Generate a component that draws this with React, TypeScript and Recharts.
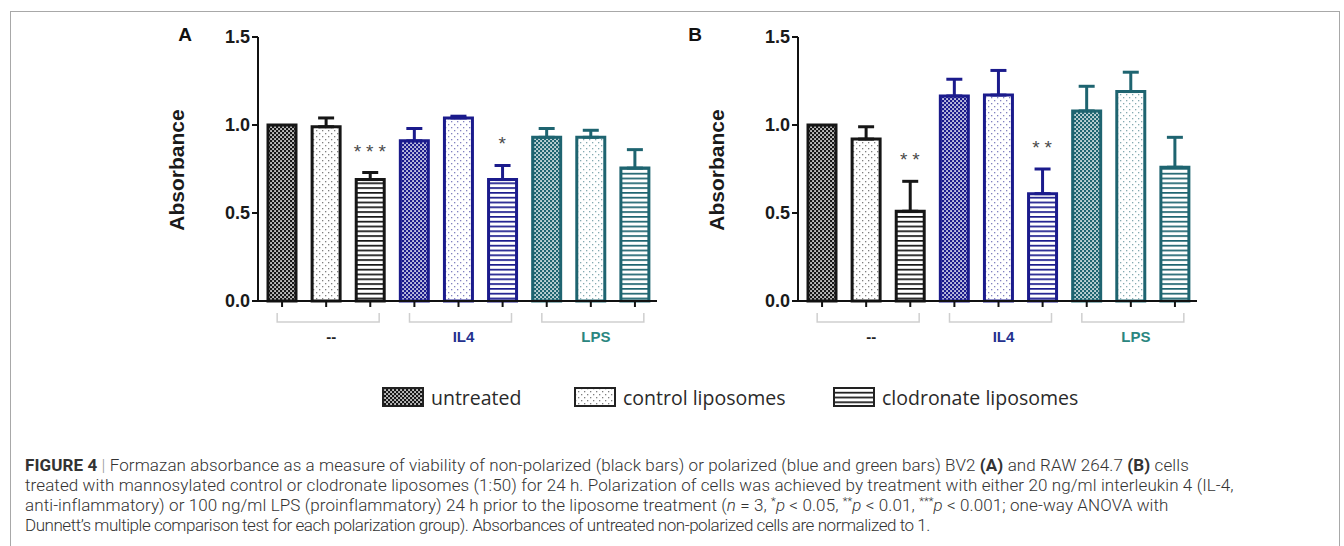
import React from 'react'
import { BarChart, Bar, XAxis, YAxis, ErrorBar, Cell, ReferenceDot } from 'recharts'

const groups = ['--', 'IL4', 'LPS']
const treatments = ['untreated', 'control liposomes', 'clodronate liposomes']

// panel A, BV2 (one value per group: --, IL4, LPS)
const untreatedA = [1.0, 0.91, 0.93]
const untreatedErrA = [0, 0.07, 0.05]
const controlA = [0.99, 1.04, 0.93]
const controlErrA = [0.05, 0.01, 0.04]
const clodronateA = [0.69, 0.69, 0.755]
const clodronateErrA = [0.04, 0.08, 0.105]
const starsA = ['***', '*', '']

// panel B, RAW 264.7
const untreatedB = [1.0, 1.165, 1.08]
const untreatedErrB = [0, 0.095, 0.14]
const controlB = [0.92, 1.17, 1.19]
const controlErrB = [0.07, 0.14, 0.11]
const clodronateB = [0.51, 0.61, 0.76]
const clodronateErrB = [0.17, 0.14, 0.17]
const starsB = ['**', '**', '']

const yTicks = [0, 0.5, 1, 1.5]

// one x axis per colour group so each bar gets the full band
const SERIES = ['x1', 'x2', 'x3']
const GROUP_AXIS = 'x4'
const COLORS = ['#161616', '#1b1b8c', '#1e6470']
const LABEL_COLORS = ['#222', '#24318f', '#2b8680']
const PATTERNS = ['check', 'dots', 'lines']
const AXIS_FONT = '"Liberation Sans", Arial, sans-serif'

const buildRows = (vals: number[][], errs: number[][]) => {
  const rows: any[] = []
  groups.forEach((g, gi) => {
    treatments.forEach((t, ti) => {
      const k = SERIES[gi]
      const row: any = { cat: `${g}|${t}`, group: g, treat: ti }
      row['v_' + k] = vals[ti][gi]
      row['e_' + k] = errs[ti][gi] > 0 ? [0, errs[ti][gi]] : null
      rows.push(row)
    })
  })
  return rows
}

const dataA = buildRows([untreatedA, controlA, clodronateA], [untreatedErrA, controlErrA, clodronateErrA])
const dataB = buildRows([untreatedB, controlB, clodronateB], [untreatedErrB, controlErrB, clodronateErrB])

const NoTick = () => null

const GroupTick = (props: any) => {
  const { x, y, payload } = props
  const gi = groups.indexOf(payload.value)
  const half = 51
  const by = y + 11
  return (
    <g>
      <path
        d={`M${x - half + 2},${by - 9} V${by} H${x + half + 2} V${by - 9}`}
        fill="none"
        stroke="#cfcfcf"
        strokeWidth={1.5}
      />
      <text
        x={x + 5}
        y={y + 31}
        textAnchor="middle"
        fill={LABEL_COLORS[gi]}
        fontSize={15}
        fontWeight={700}
        fontFamily={AXIS_FONT}
      >
        {payload.value}
      </text>
    </g>
  )
}

const Panel = ({ data, stars, vals, errs }: any) => (
  <BarChart
    width={540}
    height={360}
    data={data}
    margin={{ top: 37, right: 3, bottom: 9, left: 0 }}
  >
    <YAxis
      domain={[0, 1.5]}
      ticks={yTicks}
      interval={0}
      width={138}
      tickFormatter={(v: number) => v.toFixed(1)}
      axisLine={{ stroke: '#111', strokeWidth: 2 }}
      tickLine={{ stroke: '#111', strokeWidth: 2 }}
      tickSize={6}
      tickMargin={2}
      tick={{ fill: '#1a1a1a', fontSize: 18, fontWeight: 700, fontFamily: AXIS_FONT }}
    />
    <XAxis
      xAxisId="x1"
      dataKey="cat"
      interval={0}
      height={10}
      padding={{ left: 2, right: 0 }}
      axisLine={{ stroke: '#111', strokeWidth: 2 }}
      tickLine={{ stroke: '#111', strokeWidth: 2 }}
      tickSize={6}
      tick={NoTick}
    />
    <XAxis xAxisId="x2" dataKey="cat" hide height={0} padding={{ left: 2, right: 0 }} />
    <XAxis xAxisId="x3" dataKey="cat" hide height={0} padding={{ left: 2, right: 0 }} />
    <XAxis
      xAxisId={GROUP_AXIS}
      dataKey="group"
      allowDuplicatedCategory={false}
      interval={0}
      height={40}
      padding={{ left: 2, right: 0 }}
      axisLine={false}
      tickLine={false}
      tickSize={0}
      tickMargin={0}
      tick={<GroupTick />}
    />
    {SERIES.map((k, gi) => (
      <Bar
        key={k}
        xAxisId={k}
        dataKey={'v_' + k}
        barSize={28}
        stroke={COLORS[gi]}
        strokeWidth={3}
        isAnimationActive={false}
      >
        {data.map((row: any, i: number) => (
          <Cell key={i} fill={`url(#${PATTERNS[row.treat]}-${k})`} />
        ))}
        <ErrorBar
          dataKey={'e_' + k}
          direction="y"
          width={8}
          stroke={COLORS[gi]}
          strokeWidth={3}
        />
      </Bar>
    ))}
    {stars.map((s: string, gi: number) =>
      s ? (
        <ReferenceDot
          key={gi}
          xAxisId="x1"
          x={`${groups[gi]}|clodronate liposomes`}
          y={vals[gi] + errs[gi]}
          r={0}
          stroke="none"
          label={{
            value: s,
            position: 'top',
            offset: 15,
            fill: '#4a4a4a',
            fontSize: 19,
            letterSpacing: 5,
            dx: 2,
            fontFamily: AXIS_FONT,
          }}
        />
      ) : null,
    )}
  </BarChart>
)

const Patterns = () => (
  <svg width={0} height={0} style={{ position: 'absolute' }}>
    <defs>
      {SERIES.map((k, gi) => {
        const c = COLORS[gi]
        return (
          <React.Fragment key={k}>
            <pattern id={`check-${k}`} patternUnits="userSpaceOnUse" width={4} height={4}>
              <rect width={4} height={4} fill={c} />
              <rect x={0.2} y={0.2} width={1.7} height={1.7} fill="#fff" opacity={0.9} />
              <rect x={2.2} y={2.2} width={1.7} height={1.7} fill="#fff" opacity={0.9} />
            </pattern>
            <pattern id={`dots-${k}`} patternUnits="userSpaceOnUse" width={6} height={6}>
              <rect width={6} height={6} fill="#fff" />
              <rect x={1} y={1} width={1.3} height={1.3} fill={c} opacity={0.55} />
              <rect x={4} y={4} width={1.3} height={1.3} fill={c} opacity={0.55} />
            </pattern>
            <pattern id={`lines-${k}`} patternUnits="userSpaceOnUse" width={4} height={4.8}>
              <rect width={4} height={4.8} fill="#fff" />
              <rect y={0} width={4} height={1.7} fill={c} />
            </pattern>
          </React.Fragment>
        )
      })}
    </defs>
  </svg>
)

const legendLeft = [382, 574, 833]

const Sup = ({ children }: any) => (
  <span style={{ fontSize: 11, position: 'relative', top: -6, lineHeight: 0 }}>{children}</span>
)

const App = () => {
  return (
    <div style={{ position: 'relative', width: 1344, height: 546, overflow: 'hidden', background: '#fff' }}>
      <style>{'body{margin:0}'}</style>
      <Patterns />
      <div
        style={{
          position: 'absolute',
          left: 10,
          top: 11,
          width: 1328,
          height: 600,
          border: '1px solid #a8a8a8',
        }}
      />
      <div style={{ position: 'absolute', left: 120, top: 0 }}>
        <Panel
          data={dataA}
          stars={starsA}
          vals={clodronateA}
          errs={clodronateErrA}
        />
      </div>
      <div style={{ position: 'absolute', left: 660, top: 0 }}>
        <Panel
          data={dataB}
          stars={starsB}
          vals={clodronateB}
          errs={clodronateErrB}
        />
      </div>
      {[
        { t: 'A', x: 185 },
        { t: 'B', x: 695 },
      ].map((p) => (
        <div
          key={p.t}
          style={{
            position: 'absolute',
            left: p.x,
            top: 35,
            transform: 'translate(-50%, -50%)',
            fontFamily: AXIS_FONT,
            fontWeight: 700,
            fontSize: 19,
            color: '#111',
          }}
        >
          {p.t}
        </div>
      ))}
      {[177, 717].map((x) => (
        <div
          key={x}
          style={{
            position: 'absolute',
            left: x,
            top: 170,
            transform: 'translate(-50%, -50%) rotate(-90deg)',
            fontFamily: AXIS_FONT,
            fontWeight: 700,
            fontSize: 21,
            color: '#1a1a1a',
            whiteSpace: 'nowrap',
          }}
        >
          Absorbance
        </div>
      ))}
      {treatments.map((t, ti) => (
        <div
          key={t}
          style={{
            position: 'absolute',
            left: legendLeft[ti],
            top: 386,
            display: 'flex',
            alignItems: 'center',
            height: 22,
          }}
        >
          <svg width={42} height={20}>
            <rect x={1} y={1} width={40} height={18} fill={`url(#${PATTERNS[ti]}-x1)`} stroke="#222" strokeWidth={2} />
          </svg>
          <span
            style={{
              marginLeft: 7,
              fontFamily: '"Open Sans", "Noto Sans", sans-serif',
              fontSize: 19.5,
              color: '#2a2a2a',
              whiteSpace: 'nowrap',
            }}
          >
            {t}
          </span>
        </div>
      ))}
      <div
        style={{
          position: 'absolute',
          left: 25,
          top: 455,
          fontFamily: 'Roboto, "Liberation Sans", sans-serif',
          fontWeight: 300,
          fontSize: 17,
          letterSpacing: 0.1,
          lineHeight: '20px',
          color: '#333',
          whiteSpace: 'nowrap',
        }}
      >
        <div>
          <b style={{ fontWeight: 700 }}>FIGURE 4</b> <span style={{ color: '#999' }}>|</span> Formazan absorbance
          as a measure of viability of non-polarized (black bars) or polarized (blue and green bars) BV2{' '}
          <b style={{ fontWeight: 700 }}>(A)</b> and RAW 264.7 <b style={{ fontWeight: 700 }}>(B)</b> cells
        </div>
        <div>
          treated with mannosylated control or clodronate liposomes (1:50) for 24 h. Polarization of cells was
          achieved by treatment with either 20 ng/ml interleukin 4 (IL-4,
        </div>
        <div>
          anti-inflammatory) or 100 ng/ml LPS (proinflammatory) 24 h prior to the liposome treatment (<i>n</i> = 3,{' '}
          <Sup>*</Sup>
          <i>p</i> &lt; 0.05, <Sup>**</Sup>
          <i>p</i> &lt; 0.01, <Sup>***</Sup>
          <i>p</i> &lt; 0.001; one-way ANOVA with
        </div>
        <div style={{ letterSpacing: -0.45 }}>
          Dunnett’s multiple comparison test for each polarization group). Absorbances of untreated non-polarized
          cells are normalized to 1.
        </div>
      </div>
    </div>
  )
}

export default App
